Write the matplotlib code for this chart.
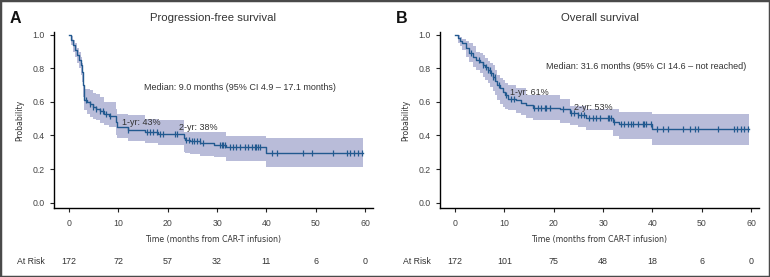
import matplotlib
matplotlib.use('Agg')

import numpy as np
import matplotlib.pyplot as plt
from matplotlib import font_manager
from matplotlib.patches import Rectangle
from matplotlib.transforms import blended_transform_factory

plt.rcParams['font.family'] = ['Liberation Sans', 'DejaVu Sans']

# Progression-free survival: step times, survival, 95% CI
pfs_t = [0, 0.4, 0.8, 1.2, 1.6, 2.0, 2.4, 2.7, 2.9, 3.1, 3.6, 4.2, 4.8, 5.5, 6.2, 7.0, 8.0, 9.5,
         9.8, 12.0, 15.4, 18.1, 23.3, 23.6, 24.5, 26.6, 29.4, 31.8, 40.0, 59.5]
pfs_s = [1.0, 0.97, 0.94, 0.91, 0.88, 0.85, 0.82, 0.78, 0.70, 0.613, 0.60, 0.585, 0.57, 0.56, 0.545,
         0.53, 0.515, 0.48, 0.452, 0.433, 0.423, 0.408, 0.383, 0.375, 0.367, 0.353, 0.343, 0.33, 0.295, 0.295]
pfs_lo = [1.0, 0.94, 0.90, 0.87, 0.83, 0.80, 0.76, 0.72, 0.63, 0.55, 0.53, 0.51, 0.50, 0.49, 0.475,
          0.465, 0.45, 0.40, 0.383, 0.37, 0.355, 0.343, 0.30, 0.296, 0.29, 0.28, 0.27, 0.25, 0.21, 0.21]
pfs_hi = [1.0, 0.99, 0.97, 0.95, 0.92, 0.90, 0.87, 0.83, 0.76, 0.675, 0.675, 0.67, 0.65, 0.645, 0.63,
          0.60, 0.60, 0.56, 0.53, 0.52, 0.50, 0.49, 0.42, 0.42, 0.42, 0.42, 0.42, 0.397, 0.383, 0.383]
pfs_cens = [3.5, 4.2, 4.8, 5.5, 6.2, 6.9, 7.5, 8.2, 12.0, 15.7, 16.4, 17.1, 17.8, 18.5, 19.1, 21.5,
            21.8, 23.8, 24.4, 24.9, 25.4, 25.9, 26.5, 27.1, 30.6, 30.9, 31.2, 31.6, 32.6, 33.3, 33.9,
            34.6, 35.6, 36.3, 37.0, 37.6, 37.9, 38.3, 38.7, 41.1, 42.2, 47.5, 49.2, 53.4, 56.3, 57.0,
            57.7, 58.6, 59.3]

# Overall survival
os_t = [0, 0.5, 1.0, 1.5, 2.2, 2.9, 3.6, 4.3, 5.0, 5.6, 6.1, 6.6, 7.1, 7.6, 8.1, 8.6, 9.2, 9.7,
        10.2, 10.7, 12.4, 13.4, 14.4, 15.8, 21.2, 23.2, 24.9, 26.6, 32.0, 33.3, 40.0, 59.5]
os_s = [1.0, 0.98, 0.965, 0.949, 0.92, 0.889, 0.87, 0.849, 0.835, 0.82, 0.805, 0.79, 0.77, 0.75,
        0.725, 0.70, 0.68, 0.66, 0.64, 0.62, 0.611, 0.595, 0.58, 0.562, 0.555, 0.536, 0.522, 0.502,
        0.482, 0.467, 0.437, 0.437]
os_lo = [1.0, 0.95, 0.93, 0.909, 0.87, 0.835, 0.81, 0.79, 0.77, 0.75, 0.73, 0.712, 0.69, 0.665,
         0.64, 0.611, 0.59, 0.57, 0.56, 0.55, 0.535, 0.52, 0.504, 0.49, 0.473, 0.46, 0.452, 0.433,
         0.397, 0.378, 0.345, 0.345]
os_hi = [1.0, 1.0, 0.985, 0.975, 0.96, 0.949, 0.93, 0.90, 0.89, 0.879, 0.86, 0.845, 0.83, 0.82,
         0.79, 0.76, 0.745, 0.73, 0.715, 0.70, 0.68, 0.68, 0.64, 0.64, 0.62, 0.576, 0.576, 0.556,
         0.556, 0.542, 0.53, 0.53]
os_cens = [3.2, 4.9, 5.6, 6.3, 6.6, 7.0, 7.3, 7.6, 8.0, 9.0, 10.4, 11.4, 12.0, 16.1, 16.8, 17.5,
           18.2, 18.5, 19.2, 21.8, 23.5, 24.2, 24.9, 25.6, 26.2, 27.2, 27.9, 28.6, 29.3, 30.9, 31.3,
           31.6, 32.3, 33.6, 34.3, 35.0, 35.6, 36.0, 37.0, 38.0, 38.3, 38.7, 39.8, 41.0, 42.1, 43.2,
           46.1, 47.6, 48.6, 49.2, 53.3, 56.5, 57.2, 57.9, 58.6, 59.3]

risk_times = [0, 10, 20, 30, 40, 50, 60]
pfs_risk = [172, 72, 57, 32, 11, 6, 0]
os_risk = [172, 101, 75, 48, 18, 6, 0]

panels = [
    dict(letter='A', title='Progression-free survival', t=pfs_t, s=pfs_s, lo=pfs_lo, hi=pfs_hi,
         cens=pfs_cens, risk=pfs_risk,
         median='Median: 9.0 months (95% CI 4.9 \u2013 17.1 months)', med_xy=(15.2, 0.683),
         yr1=('1-yr: 43%', 10.8, 0.478), yr2=('2-yr: 38%', 22.3, 0.449), left=54),
    dict(letter='B', title='Overall survival', t=os_t, s=os_s, lo=os_lo, hi=os_hi,
         cens=os_cens, risk=os_risk,
         median='Median: 31.6 months (95% CI 14.6 \u2013 not reached)', med_xy=(18.5, 0.812),
         yr1=('1-yr: 61%', 11.2, 0.657), yr2=('2-yr: 53%', 24.2, 0.564), left=440),
]

# condensed face for axis labels, if one is around
label_font = dict(family='Liberation Sans', fontsize=6.2)
try:
    fp = font_manager.FontProperties(family='DejaVu Sans', stretch='condensed')
    path = font_manager.findfont(fp, fallback_to_default=False)
    if 'Condensed' in path:
        label_font = dict(family='DejaVu Sans', stretch='condensed', fontsize=6.2)
except Exception:
    pass

W, H = 770, 277
fig = plt.figure(figsize=(W / 100, H / 100), dpi=100)

line_color = '#22598f'
band_color = '#b9bcd9'
text_color = '#333333'

for p in panels:
    ax = fig.add_axes([p['left'] / W, 1 - 207.7 / H, 319 / W, (207.7 - 32.2) / H])
    t = np.array(p['t'])
    s = np.array(p['s'])
    ax.fill_between(t, p['lo'], p['hi'], step='post', color=band_color, lw=0)
    ax.step(t, s, where='post', color=line_color, lw=1.0)
    idx = np.searchsorted(t, p['cens'], side='right') - 1
    ax.plot(p['cens'], s[idx], ls='none', marker='|', ms=4.5, mew=0.9, color=line_color)

    ax.set_xlim(-3.05, 61.6)
    ax.set_ylim(-0.03, 1.015)
    ax.set_xticks(risk_times)
    ax.set_yticks([0, 0.2, 0.4, 0.6, 0.8, 1.0])
    ax.set_yticklabels(['0.0', '0.2', '0.4', '0.6', '0.8', '1.0'])
    for side in ['top', 'right']:
        ax.spines[side].set_visible(False)
    for side in ['left', 'bottom']:
        ax.spines[side].set_linewidth(1.0)
    ax.tick_params(labelsize=6.3, colors='#222222', labelcolor='#444444', length=3, width=0.8)
    ax.tick_params(axis='x', pad=5)
    ax.set_xlabel('Time (months from CAR-T infusion)', color=text_color, labelpad=5, **label_font)
    ax.set_ylabel('Probability', color=text_color, labelpad=6, **label_font)
    ax.set_title(p['title'], fontsize=8.2, color=text_color, pad=8)

    ax.text(p['med_xy'][0], p['med_xy'][1], p['median'], fontsize=6.5, color=text_color,
            va='center')
    for lab, x, y in [p['yr1'], p['yr2']]:
        ax.text(x, y, lab, fontsize=6.5, color=text_color, va='center')

    fig.text((p['left'] - 44) / W, 1 - 18.7 / H, p['letter'], fontsize=11.5, fontweight='bold',
             color='#111111', va='center')

    trans = blended_transform_factory(ax.transData, fig.transFigure)
    for x, n in zip(risk_times, p['risk']):
        ax.text(x, 1 - 262 / H, str(n), transform=trans, fontsize=6.4, color=text_color,
                ha='center', va='center')
    fig.text((p['left'] - 37) / W, 1 - 261 / H, 'At Risk', fontsize=6.3, color=text_color,
             va='center')

fig.patches.append(Rectangle((0, 0), 1, 1, transform=fig.transFigure, fill=False,
                             ec='#4a4a4a', lw=2.5))

fig.savefig('out.png', dpi=100)
